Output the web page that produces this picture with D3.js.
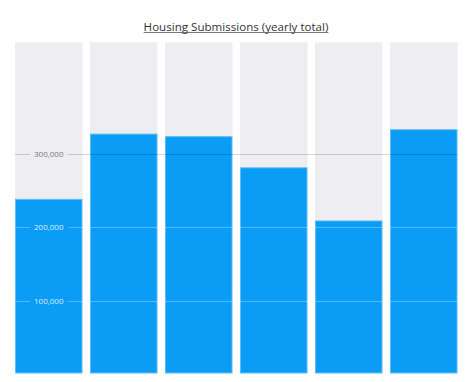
<!DOCTYPE html>
<html><head><meta charset="utf-8">
<script src="https://cdn.jsdelivr.net/npm/d3@7"></script>
<style>html,body{margin:0;padding:0;background:#fff;}svg{display:block;}</style>
</head><body>
<svg id="chart" width="466" height="382"></svg>
<script>
const title = "Housing Submissions (yearly total)";
const categories = ["2018", "2019", "2020", "2021", "2022", "2023"];
const values = [239000, 328000, 324500, 282000, 209500, 334000];
const yMax = 452600;
const tickValues = [100000, 200000, 300000];

const svg = d3.select("#chart");
const font = "'Open Sans', sans-serif";

const x = d3.scaleBand().domain(categories).range([15, 457.5]).paddingInner(0.1).paddingOuter(0);
const y = d3.scaleLinear().domain([0, yMax]).range([374, 42.3]);

// background columns
svg.append("g").selectAll("rect").data(categories).join("rect")
  .attr("x", d => x(d)).attr("width", x.bandwidth())
  .attr("y", y(yMax)).attr("height", y(0) - y(yMax) - 1)
  .attr("fill", "#ededf2");

// value bars
svg.append("g").selectAll("rect").data(values).join("rect")
  .attr("x", (d, i) => x(categories[i]) + 0.5).attr("width", x.bandwidth() - 1)
  .attr("y", d => y(d) + 0.5).attr("height", d => y(0) - y(d) - 1.5)
  .attr("fill", "#0b9df6")
  .attr("stroke", "#5ebdf7").attr("stroke-width", 1);

// gridlines with labels inside first column
const minVal = d3.min(values);
const grid = svg.append("g");
const first = categories[0];
const cx = x(first) + x.bandwidth() / 2;
tickValues.forEach(t => {
  const inside = t < minVal;
  const yy = Math.round(y(t)) + 0.5;
  const label = grid.append("text")
    .attr("x", cx).attr("y", yy).attr("dy", "0.35em")
    .attr("text-anchor", "middle")
    .attr("font-family", font).attr("font-size", 8)
    .attr("fill", inside ? "rgba(255,255,255,0.85)" : "#7a7a80")
    .text(d3.format(",")(t));
  const w = label.node().getComputedTextLength();
  const stroke = inside ? "rgba(255,255,255,0.28)" : "rgba(0,0,0,0.16)";
  grid.insert("line", "text").attr("x1", x(first)).attr("x2", cx - w / 2 - 4)
    .attr("y1", yy).attr("y2", yy).attr("stroke", stroke);
  grid.insert("line", "text").attr("x1", cx + w / 2 + 4).attr("x2", x.range()[1])
    .attr("y1", yy).attr("y2", yy).attr("stroke", stroke);
});

// title
const tt = svg.append("text")
  .attr("x", 236).attr("y", 30.5).attr("text-anchor", "middle")
  .attr("font-family", font).attr("font-size", 11).attr("fill", "#333")
  .text(title);
const tw = tt.node().getComputedTextLength();
const fs = 11 * 185 / tw;
tt.attr("font-size", fs);
const tw2 = tt.node().getComputedTextLength();
svg.append("line").attr("x1", 236 - tw2 / 2).attr("x2", 236 + tw2 / 2)
  .attr("y1", 32.5).attr("y2", 32.5).attr("stroke", "#555").attr("stroke-width", 0.8);
</script>
</body></html>
